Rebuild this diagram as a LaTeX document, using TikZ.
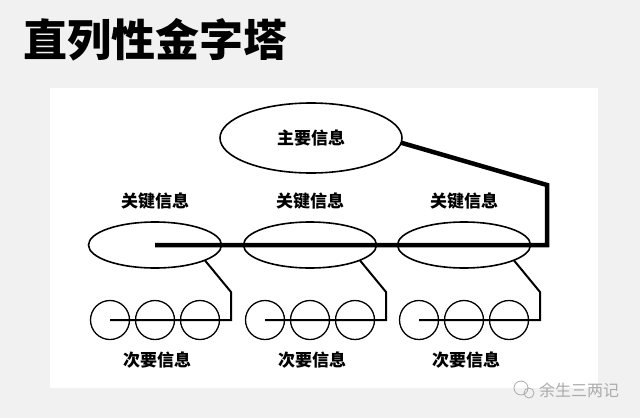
\documentclass[tikz,border=0pt]{standalone}
\usepackage{fontspec}
\newfontfamily\cjk{Noto Sans CJK SC}
\usetikzlibrary{shapes.geometric, positioning}
\definecolor{pagegray}{HTML}{F1F1F1}
\definecolor{markgray}{HTML}{ABABAB}

\begin{document}
\begin{tikzpicture}[x=1pt, y=-1pt,
        mainnode/.style = {ellipse, draw=black, line width=1.6pt, minimum width=182pt, minimum height=70pt, inner sep=0pt, outer sep=0pt, font=\cjk\bfseries\fontsize{17}{17}\selectfont},
        keynode/.style = {ellipse, draw=black, line width=1.6pt, minimum width=133pt, minimum height=46pt, inner sep=0pt, outer sep=0pt},
        subnode/.style = {circle, draw=black, line width=1.3pt, minimum size=39pt, inner sep=0pt, outer sep=0pt},
        label/.style = {font=\cjk\bfseries\fontsize{17}{17}\selectfont, inner sep=0pt},
        mainlink/.style = {line width=4.5pt, line join=miter},
        sublink/.style = {line width=2pt}
    ]

    % page and panel
    \fill[pagegray] (0,0) rectangle (640,418);
    \fill[white] (50,88) rectangle (598,388);
    \useasboundingbox (0,0) rectangle (640,418);

    \node[anchor=west, font=\cjk\bfseries\fontsize{44}{44}\selectfont, inner sep=0pt] (title) at (23,40) {直列性金字塔};

    \node [mainnode] (main) at (311,138) {主要信息};

    \foreach \x/\n in {155/1, 310/2, 464/3} {
        \node [label] (keylabel\n) at (\x,201) {关键信息};
        \node [keynode] (key\n) at (\x,245) {};
        \node [subnode] (sub\n a) at (\x-45,320) {};
        \node [subnode] (sub\n b) at (\x,320) {};
        \node [subnode] (sub\n c) at (\x+45,320) {};
        \node [label] (sublabel\n) at (\x+2,360) {次要信息};
        \coordinate (turn\n) at (\x+76,292);
        \draw [sublink] (sub\n a.center) -| (turn\n) -- (key\n.-17);
    }

    \coordinate (bend) at (547,185);
    \draw [mainlink] (main.-3) -- (bend) |- (key1.center);

    % watermark
    \draw[markgray, line width=0.8pt] (521,388) circle (7pt) (529,393) circle (5pt);
    \node[font=\cjk\fontsize{16}{16}\selectfont, text=markgray, inner sep=0pt] (mark) at (579,390) {余生三两记};
\end{tikzpicture}
\end{document}
